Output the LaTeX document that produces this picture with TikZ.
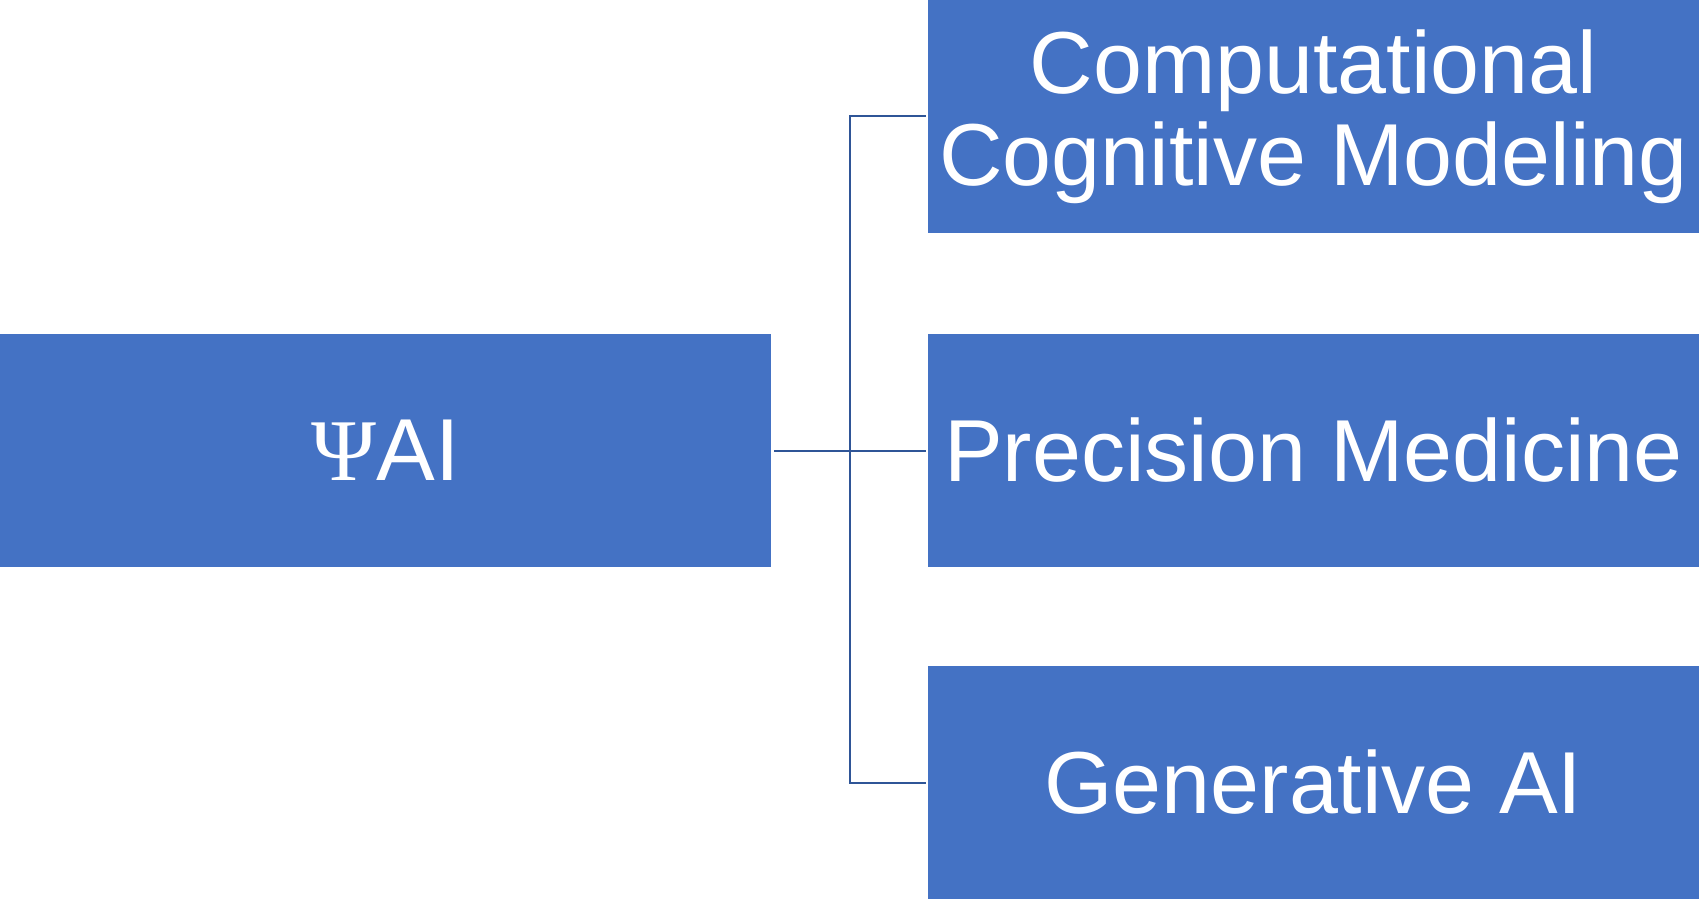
\documentclass[tikz,border=0pt]{standalone}
\usepackage{fontspec}
\setmainfont{Liberation Sans}
\newfontfamily\psifont{Liberation Serif}
\usepackage{xcolor}
\usetikzlibrary{positioning, calc}

\definecolor{boxblue}{HTML}{4472C4}
\definecolor{linkblue}{HTML}{2F5597}

\tikzset{
    topicbox/.style={fill=boxblue, text=white, inner sep=0pt,
        minimum width=385.5pt, minimum height=116.5pt, align=center,
        font=\fontsize{44}{46}\selectfont},
    link/.style={draw=linkblue, line width=1pt, shorten <=1.5pt, shorten >=1pt}
}

\begin{document}
\begin{tikzpicture}[x=0.5pt, y=-0.5pt]
    \useasboundingbox (0, 0) rectangle (1699, 899);
    \node[topicbox] (psiai) at (385.5, 450.5) {{\psifont\symbol{"03A8}}AI};
    \node[topicbox] (ccm) at (1313.5, 116.5) {Computational\\Cognitive Modeling};
    \node[topicbox] (pm) at (1313.5, 450.5) {Precision Medicine};
    \node[topicbox] (gai) at (1313.5, 782.5) {Generative AI};
    \coordinate (hub) at (850, 450.5);

    \draw[link] (psiai.east) -- (pm.west);
    \draw[link, shorten <=1pt] (ccm.west) -| (hub) |- (gai.west);
\end{tikzpicture}
\end{document}
